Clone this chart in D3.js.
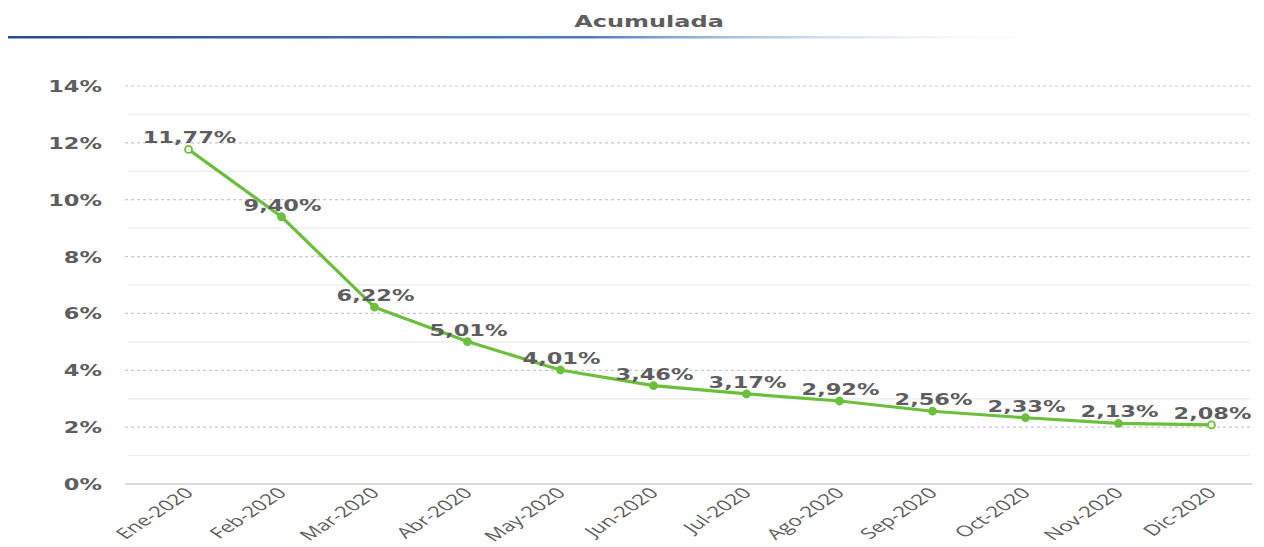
<!DOCTYPE html>
<html>
<head>
<meta charset="utf-8">
<script src="https://cdn.jsdelivr.net/npm/d3@7"></script>
<style>
  body { margin: 0; background: #fff; }
</style>
</head>
<body>
<div id="chart"></div>
<script>
// data
const months = ["Ene-2020","Feb-2020","Mar-2020","Abr-2020","May-2020","Jun-2020",
  "Jul-2020","Ago-2020","Sep-2020","Oct-2020","Nov-2020","Dic-2020"]
const values = [11.77, 9.40, 6.22, 5.01, 4.01, 3.46, 3.17, 2.92, 2.56, 2.33, 2.13, 2.08]
const yTicks = [0, 2, 4, 6, 8, 10, 12, 14]
const minorTicks = [1, 3, 5, 7, 9, 11, 13]

const W = 1264, H = 547
// the picture looks stretched sideways, so text gets the same stretch
const stretch = 1.5

const svg = d3.select("#chart")
  .append("svg")
  .attr("width", W)
  .attr("height", H)

// title + blue fading rule
const defs = svg.append("defs")
const grad = defs.append("linearGradient").attr("id", "rule")
grad.append("stop").attr("offset", "0%").attr("stop-color", "#1f4e8c")
grad.append("stop").attr("offset", "55%").attr("stop-color", "#4a7fc0")
grad.append("stop").attr("offset", "100%").attr("stop-color", "#ffffff").attr("stop-opacity", 0)

svg.append("rect")
  .attr("x", 8).attr("y", 36)
  .attr("width", 1060).attr("height", 2.5)
  .attr("fill", "url(#rule)")

svg.append("g")
  .attr("transform", "translate(649,27) scale(1.6,1)")
  .append("text")
  .attr("text-anchor", "middle")
  .style("font-family", "'DejaVu Sans', Verdana, sans-serif")
  .style("font-size", "15px")
  .style("font-weight", "bold")
  .style("fill", "#5e5e5e")
  .text("Acumulada")

const x = d3.scaleBand()
  .domain(months)
  .range([142, 1258])

const y = d3.scaleLinear()
  .domain([0, 14])
  .range([484, 86])

// gridlines
svg.append("g")
  .selectAll("line")
  .data(minorTicks)
  .join("line")
    .attr("x1", 128).attr("x2", 1250)
    .attr("y1", d => y(d)).attr("y2", d => y(d))
    .style("stroke", "#f0f0f0")
    .style("stroke-width", 1.5)

svg.append("g")
  .selectAll("line")
  .data(yTicks.filter(d => d > 0))
  .join("line")
    .attr("x1", 125).attr("x2", 1252)
    .attr("y1", d => y(d)).attr("y2", d => y(d))
    .style("stroke", "#c8c8c8")
    .style("stroke-width", 1.2)
    .style("stroke-dasharray", "3,3")

svg.append("line")
  .attr("x1", 125).attr("x2", 1252)
  .attr("y1", y(0)).attr("y2", y(0))
  .style("stroke", "#d0d0d0")
  .style("stroke-width", 1.5)

// y labels
svg.append("g")
  .selectAll("g")
  .data(yTicks)
  .join("g")
    .attr("transform", d => "translate(102," + (y(d) + 6) + ") scale(" + stretch + ",1)")
  .append("text")
    .attr("text-anchor", "end")
    .style("font-family", "'DejaVu Sans', Verdana, sans-serif")
    .style("font-size", "15px")
    .style("font-weight", "bold")
    .style("fill", "#5e5e5e")
    .text(d => d + "%")

// x labels: rotated 45 then stretched, like the picture
svg.append("g")
  .selectAll("g")
  .data(months)
  .join("g")
    .attr("transform", d => "translate(" + (x(d) + x.bandwidth() / 2 + 6) + ",494) scale(" + stretch + ",1) rotate(-45)")
  .append("text")
    .attr("text-anchor", "end")
    .style("font-family", "'Open Sans', sans-serif")
    .style("font-size", "15px")
    .style("fill", "#5e5e5e")
    .text(d => d)

// the line
const cx = d => x(d) + x.bandwidth() / 2
const line = d3.line()
  .x((d, i) => cx(months[i]))
  .y(d => y(d))

svg.append("path")
  .datum(values)
  .attr("d", line)
  .style("fill", "none")
  .style("stroke", "#6cbf3c")
  .style("stroke-width", 3.2)
  .style("stroke-linejoin", "round")

svg.append("g")
  .selectAll("circle")
  .data(values)
  .join("circle")
    .attr("cx", (d, i) => cx(months[i]))
    .attr("cy", d => y(d))
    .attr("r", 3.5)
    .style("fill", (d, i) => (i == 0 || i == values.length - 1) ? "#ffffff" : "#6cbf3c")
    .style("stroke", "#6cbf3c")
    .style("stroke-width", 1.8)

// data labels
svg.append("g")
  .selectAll("g")
  .data(values)
  .join("g")
    .attr("transform", (d, i) => "translate(" + (cx(months[i]) + 1) + "," + (y(d) - 6) + ") scale(" + stretch + ",1)")
  .append("text")
    .attr("text-anchor", "middle")
    .style("font-family", "'DejaVu Sans', Verdana, sans-serif")
    .style("font-size", "15px")
    .style("font-weight", "bold")
    .style("fill", "#5e5e5e")
    .text(d => d.toFixed(2).replace(".", ",") + "%")
</script>
</body>
</html>
